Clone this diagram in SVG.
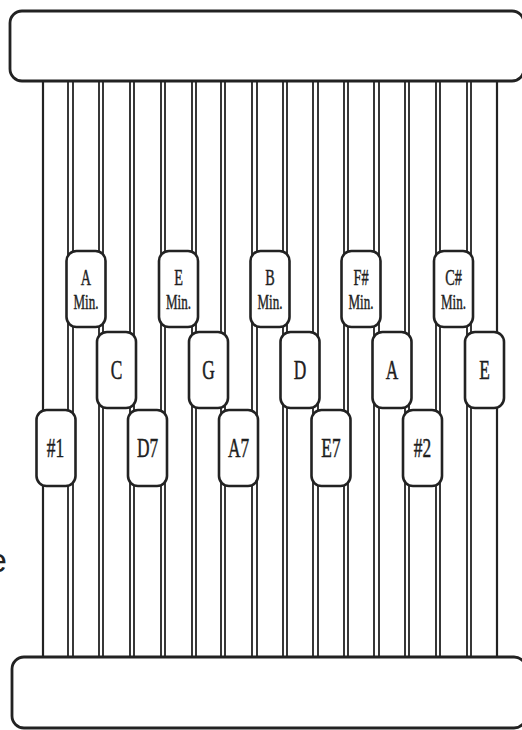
<svg xmlns="http://www.w3.org/2000/svg" width="522" height="730" viewBox="0 0 522 730">
<style>
.frame{fill:#fff;stroke:#222;stroke-width:2.8}
.s{stroke:#222;stroke-width:2.2;fill:none}
.d{stroke:#222;stroke-width:1.8;fill:none}
.btn{fill:#fff;stroke:#222;stroke-width:2.6}
.lb{font-family:"Liberation Serif","Times New Roman",serif;font-size:28px;fill:#1e1e1e;stroke:#1e1e1e;stroke-width:0.5;text-anchor:middle}
.l1{font-family:"Liberation Serif","Times New Roman",serif;font-size:23px;fill:#1e1e1e;stroke:#1e1e1e;stroke-width:0.45;text-anchor:middle}
.m{font-size:21px}
</style>
<rect width="522" height="730" fill="#fff"/>
<g id="strings">
<line class="s" x1="43" y1="80" x2="43" y2="657"/>
<line class="d" x1="68" y1="80" x2="68" y2="657"/><line class="d" x1="73" y1="80" x2="73" y2="657"/>
<line class="d" x1="99" y1="80" x2="99" y2="657"/><line class="d" x1="103" y1="80" x2="103" y2="657"/>
<line class="d" x1="130" y1="80" x2="130" y2="657"/><line class="d" x1="134" y1="80" x2="134" y2="657"/>
<line class="d" x1="161" y1="80" x2="161" y2="657"/><line class="d" x1="165" y1="80" x2="165" y2="657"/>
<line class="d" x1="192" y1="80" x2="192" y2="657"/><line class="d" x1="196" y1="80" x2="196" y2="657"/>
<line class="d" x1="221" y1="80" x2="221" y2="657"/><line class="d" x1="225" y1="80" x2="225" y2="657"/>
<line class="d" x1="252" y1="80" x2="252" y2="657"/><line class="d" x1="257" y1="80" x2="257" y2="657"/>
<line class="d" x1="283" y1="80" x2="283" y2="657"/><line class="d" x1="287" y1="80" x2="287" y2="657"/>
<line class="d" x1="313" y1="80" x2="313" y2="657"/><line class="d" x1="318" y1="80" x2="318" y2="657"/>
<line class="d" x1="344" y1="80" x2="344" y2="657"/><line class="d" x1="348" y1="80" x2="348" y2="657"/>
<line class="d" x1="374" y1="80" x2="374" y2="657"/><line class="d" x1="379" y1="80" x2="379" y2="657"/>
<line class="d" x1="405" y1="80" x2="405" y2="657"/><line class="d" x1="409" y1="80" x2="409" y2="657"/>
<line class="d" x1="436" y1="80" x2="436" y2="657"/><line class="d" x1="440" y1="80" x2="440" y2="657"/>
<line class="d" x1="467" y1="80" x2="467" y2="657"/><line class="d" x1="471" y1="80" x2="471" y2="657"/>
<line class="s" x1="497" y1="80" x2="497" y2="657"/>
</g>
<g id="top-bar"><rect class="frame" x="10" y="11" width="514" height="70" rx="12"/></g>
<g id="bottom-bar"><rect class="frame" x="12" y="657" width="514" height="71" rx="12"/></g>

<g id="btn-1"><rect class="btn" x="36.5" y="410" width="39" height="76" rx="10"/><text class="lb" transform="translate(55.5,457) scale(0.62,1)">#1</text></g>
<g id="btn-amin"><rect class="btn" x="66.5" y="251" width="39" height="76" rx="10"/><text class="l1" transform="translate(86,285) scale(0.62,1)"><tspan x="0" y="0">A</tspan><tspan class="m" x="0" y="24">Min.</tspan></text></g>
<g id="btn-c"><rect class="btn" x="97" y="332" width="39" height="76" rx="10"/><text class="lb" transform="translate(116.5,379) scale(0.62,1)">C</text></g>
<g id="btn-d7"><rect class="btn" x="128" y="410" width="39" height="76" rx="10"/><text class="lb" transform="translate(147.5,457) scale(0.62,1)">D7</text></g>
<g id="btn-emin"><rect class="btn" x="159" y="251" width="39" height="76" rx="10"/><text class="l1" transform="translate(178.5,285) scale(0.62,1)"><tspan x="0" y="0">E</tspan><tspan class="m" x="0" y="24">Min.</tspan></text></g>
<g id="btn-g"><rect class="btn" x="189" y="332" width="39" height="76" rx="10"/><text class="lb" transform="translate(208.5,379) scale(0.62,1)">G</text></g>
<g id="btn-a7"><rect class="btn" x="219" y="410" width="39" height="76" rx="10"/><text class="lb" transform="translate(238.5,457) scale(0.62,1)">A7</text></g>
<g id="btn-bmin"><rect class="btn" x="250.5" y="251" width="39" height="76" rx="10"/><text class="l1" transform="translate(270,285) scale(0.62,1)"><tspan x="0" y="0">B</tspan><tspan class="m" x="0" y="24">Min.</tspan></text></g>
<g id="btn-d"><rect class="btn" x="280.5" y="332" width="39" height="76" rx="10"/><text class="lb" transform="translate(300,379) scale(0.62,1)">D</text></g>
<g id="btn-e7"><rect class="btn" x="311.5" y="410" width="39" height="76" rx="10"/><text class="lb" transform="translate(331,457) scale(0.62,1)">E7</text></g>
<g id="btn-fsmin"><rect class="btn" x="341.5" y="251" width="39" height="76" rx="10"/><text class="l1" transform="translate(361,285) scale(0.62,1)"><tspan x="0" y="0">F#</tspan><tspan class="m" x="0" y="24">Min.</tspan></text></g>
<g id="btn-a"><rect class="btn" x="372.5" y="332" width="39" height="76" rx="10"/><text class="lb" transform="translate(392,379) scale(0.62,1)">A</text></g>
<g id="btn-2"><rect class="btn" x="403" y="410" width="39" height="76" rx="10"/><text class="lb" transform="translate(422.5,457) scale(0.62,1)">#2</text></g>
<g id="btn-csmin"><rect class="btn" x="434" y="251" width="39" height="76" rx="10"/><text class="l1" transform="translate(453.5,285) scale(0.62,1)"><tspan x="0" y="0">C#</tspan><tspan class="m" x="0" y="24">Min.</tspan></text></g>
<g id="btn-e"><rect class="btn" x="465" y="332" width="39" height="76" rx="10"/><text class="lb" transform="translate(484.5,379) scale(0.62,1)">E</text></g>

<text x="-12" y="572" font-family="Liberation Sans, Arial, sans-serif" font-size="34" fill="#222">e</text>
</svg>
